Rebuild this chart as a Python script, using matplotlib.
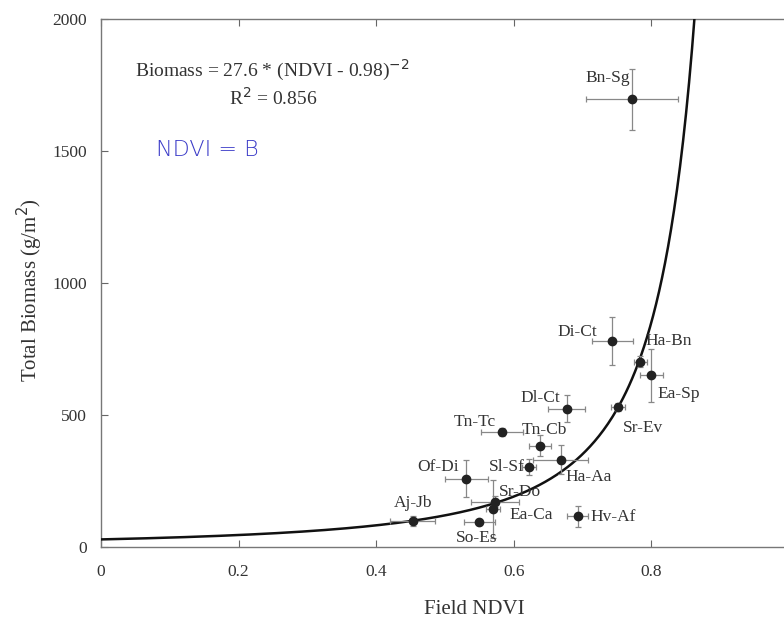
import numpy as np
import matplotlib
matplotlib.use("Agg")
import matplotlib.pyplot as plt

labels = ["Bn-Sg", "Di-Ct", "Ha-Bn", "Ea-Sp", "Sr-Ev", "Dl-Ct", "Tn-Tc", "Tn-Cb",
          "Ha-Aa", "Sl-Sf", "Of-Di", "Sr-Do", "Ea-Ca", "Aj-Jb", "So-Es", "Hv-Af"]
ndvi = [0.772, 0.743, 0.784, 0.800, 0.751, 0.677, 0.583, 0.638,
        0.668, 0.622, 0.531, 0.573, 0.570, 0.453, 0.550, 0.693]
biomass = [1696, 781, 702, 651, 529, 524, 437, 384,
           330, 304, 259, 172, 143, 98, 94, 117]
ndvi_err = [0.067, 0.030, 0.010, 0.017, 0.010, 0.027, 0.030, 0.016,
            0.040, 0.010, 0.031, 0.035, 0.010, 0.033, 0.022, 0.015]
biomass_err = [116, 90, 20, 100, 15, 50, 15, 40,
               55, 30, 70, 20, 110, 20, 10, 40]
label_x = [0.736, 0.692, 0.825, 0.840, 0.788, 0.638, 0.543, 0.645,
           0.709, 0.590, 0.490, 0.609, 0.625, 0.453, 0.546, 0.745]
label_y = [1776, 816, 781, 580, 450, 563, 475, 443,
           266, 304, 304, 209, 121, 165, 33, 115]

coef_a = 27.6
coef_b = 0.98

plt.rcParams['font.family'] = ['Liberation Serif', 'DejaVu Serif']
txt = '#333333'

W, H = 784, 620
x0, ppu = 101, 688.0
xmax = (W - x0) / ppu

fig = plt.figure(figsize=(W / 100, H / 100), dpi=100)
ax = fig.add_axes([x0 / W, 73 / H, (W - x0) / W, 528 / H])

xc = np.linspace(0, 0.87, 400)
ax.plot(xc, coef_a * (xc - coef_b) ** -2, color='#111111', lw=1.8, zorder=3)

ax.errorbar(ndvi, biomass, xerr=ndvi_err, yerr=biomass_err, fmt='o', color='#222222',
            ms=6, ecolor='#888888', elinewidth=0.9, capsize=2, capthick=0.9, zorder=4)

for lb, lx, ly in zip(labels, label_x, label_y):
    ax.text(lx, ly, lb, ha='center', va='center', fontsize=12.5, color=txt, zorder=5)

ax.text(0.05, 1805, r'Biomass = 27.6 * (NDVI - 0.98)$^{-2}$', ha='left', va='center',
        fontsize=14, color=txt)
ax.text(0.25, 1700, r'R$^{2}$ = 0.856', ha='center', va='center', fontsize=14, color=txt)
ax.text(0.155, 1505, 'NDVI = B', ha='center', va='center', fontsize=16, color='#3b3bc8',
        family='DejaVu Sans', fontweight='light')

ax.set_xlim(0, xmax)
ax.set_ylim(0, 2000)
ax.set_xticks([0, 0.2, 0.4, 0.6, 0.8])
ax.set_xticklabels(['0', '0.2', '0.4', '0.6', '0.8'])
ax.set_yticks([0, 500, 1000, 1500, 2000])
ax.tick_params(direction='in', length=5, width=0.8, color='#666666', top=True, right=False,
               labelsize=12.5, labelcolor=txt)
ax.tick_params(axis='x', pad=12)
ax.tick_params(axis='y', pad=10)
for s in ax.spines.values():
    s.set_color('#777777')
    s.set_linewidth(1.0)
ax.spines['right'].set_visible(False)

fig.text(474 / W, 1 - 610 / H, 'Field NDVI', ha='center', va='center', fontsize=15, color=txt)
fig.text(30 / W, 1 - 290 / H, r'Total Biomass (g/m$^{2}$)', rotation=90, ha='center',
         va='center', fontsize=15, color=txt)

fig.savefig('out.png', dpi=100)
